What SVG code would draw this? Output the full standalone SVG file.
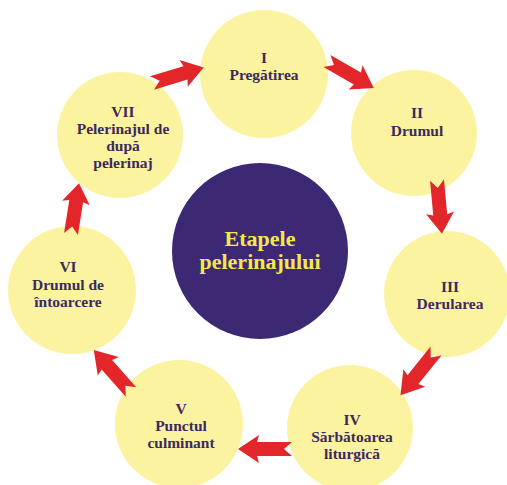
<svg xmlns="http://www.w3.org/2000/svg" width="507" height="485" viewBox="0 0 507 485">
<defs>
<style>
.node{fill:#fcf3a1;}
.hub{fill:#3c2873;}
.t{font-family:"Liberation Serif","Times New Roman",serif;font-weight:bold;font-size:15.5px;fill:#3b2a5e;text-anchor:middle;}
.h{font-family:"Liberation Serif","Times New Roman",serif;font-weight:bold;font-size:22px;fill:#f4e84a;text-anchor:middle;}
.arr{fill:#e3262a;}
</style>
<path id="arrow" d="M0,-7 L35,-7 L33,-14 L54,0 L33,14 L35,7 L0,7 L8,0 Z"/>
</defs>
<rect width="507" height="485" fill="#ffffff"/>
<g id="hub">
<circle class="hub" cx="260" cy="251" r="88"/>
<text class="h" x="260" y="246">Etapele</text>
<text class="h" x="260" y="269">pelerinajului</text>
</g>
<g id="n1">
<circle class="node" cx="264" cy="74" r="64"/>
<text class="t" x="264" y="63">I</text>
<text class="t" x="264" y="80">Pregătirea</text>
</g>
<g id="n2">
<circle class="node" cx="414" cy="133" r="63"/>
<text class="t" x="417" y="118">II</text>
<text class="t" x="417" y="136">Drumul</text>
</g>
<g id="n3">
<circle class="node" cx="447" cy="294" r="63"/>
<text class="t" x="450" y="292">III</text>
<text class="t" x="450" y="309">Derularea</text>
</g>
<g id="n4">
<circle class="node" cx="350" cy="428" r="63"/>
<text class="t" x="352" y="425">IV</text>
<text class="t" x="352" y="442">Sărbătoarea</text>
<text class="t" x="352" y="459">liturgică</text>
</g>
<g id="n5">
<circle class="node" cx="179" cy="424" r="64"/>
<text class="t" x="181" y="414">V</text>
<text class="t" x="181" y="431">Punctul</text>
<text class="t" x="181" y="448">culminant</text>
</g>
<g id="n6">
<circle class="node" cx="72" cy="290" r="64"/>
<text class="t" x="68" y="272">VI</text>
<text class="t" x="68" y="290">Drumul de</text>
<text class="t" x="68" y="307">întoarcere</text>
</g>
<g id="n7">
<circle class="node" cx="120" cy="135" r="63"/>
<text class="t" x="123" y="117">VII</text>
<text class="t" x="123" y="134">Pelerinajul de</text>
<text class="t" x="123" y="151">după</text>
<text class="t" x="123" y="168">pelerinaj</text>
</g>
<g id="connectors">
<use href="#arrow" class="arr" transform="translate(152,83) rotate(-16.8)"/>
<use href="#arrow" class="arr" transform="translate(327,61) rotate(29.9)"/>
<use href="#arrow" class="arr" transform="translate(437,180) rotate(84.7)"/>
<use href="#arrow" class="arr" transform="translate(436,351) rotate(128.8) scale(1.05,1)"/>
<use href="#arrow" class="arr" transform="translate(292,449) rotate(180)"/>
<use href="#arrow" class="arr" transform="translate(131,392) rotate(228.5) scale(1.04,1)"/>
<use href="#arrow" class="arr" transform="translate(71,234) rotate(-81) scale(0.95,1)"/>
</g>
</svg>
